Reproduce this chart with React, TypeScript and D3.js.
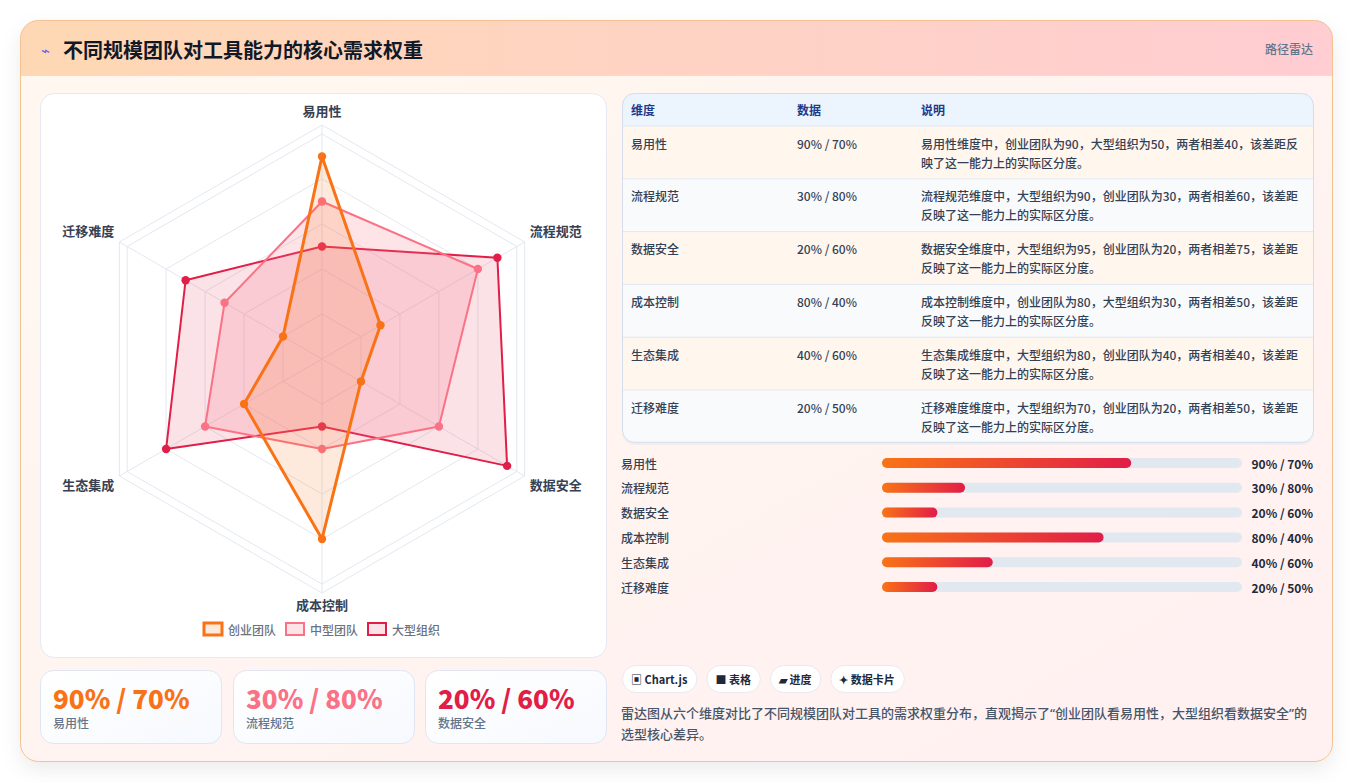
import { useMemo } from 'react';
import { curveLinearClosed, lineRadial, scaleLinear, scalePoint } from 'd3';

const dims = ['易用性', '流程规范', '数据安全', '成本控制', '生态集成', '迁移难度'];
const seriesNames = ['创业团队', '中型团队', '大型组织'];
const startup = [90, 30, 20, 80, 40, 20];
const midsize = [70, 80, 60, 40, 60, 50];
const enterprise = [50, 90, 95, 30, 80, 70];
const ringTicks = [20, 40, 60, 80, 100, 104];
const colors = ['#f97316', '#fb7185', '#e11d48'];
const fills = ['rgba(249,115,22,0.15)', 'rgba(251,113,133,0.2)', 'rgba(225,29,72,0.13)'];
const lineWidths = [3, 2, 2];
const cardDims = [0, 1, 2];
const tags = ['▣ Chart.js', '■ 表格', '▰ 进度', '✦ 数据卡片'];
const note =
  '雷达图从六个维度对比了不同规模团队对工具的需求权重分布，直观揭示了“创业团队看易用性，大型组织看数据安全”的选型核心差异。';

const FONT = "'Noto Sans CJK SC', 'Noto Sans', sans-serif";
const NOTE_FONT = "'Noto Sans', 'Noto Sans CJK SC', sans-serif";

let ctx: CanvasRenderingContext2D | null = null;
const measure = (text: string, font: string) => {
  if (!ctx) ctx = document.createElement('canvas').getContext('2d');
  ctx!.font = font;
  return ctx!.measureText(text).width;
};

const wrap = (text: string, font: string, maxW: number) => {
  const lines: string[] = [];
  let cur = '';
  for (const ch of Array.from(text)) {
    if (measure(cur + ch, font) > maxW && cur) {
      lines.push(cur);
      cur = ch;
    } else cur += ch;
  }
  if (cur) lines.push(cur);
  return lines;
};

const pct = (i: number) => `${startup[i]}% / ${midsize[i]}%`;

const describe = (i: number) => {
  const a = startup[i];
  const b = enterprise[i];
  const [hiN, hi, loN, lo] = a >= b ? ['创业团队', a, '大型组织', b] : ['大型组织', b, '创业团队', a];
  return `${dims[i]}维度中，${hiN}为${hi}，${loN}为${lo}，两者相差${Math.abs(a - b)}，该差距反映了这一能力上的实际区分度。`;
};

const Radar = () => {
  const cx = 322;
  const cy = 359;
  const r = scaleLinear().domain([0, 100]).range([0, 225]);
  const slice = (Math.PI * 2) / dims.length;
  const line = lineRadial<number>()
    .curve(curveLinearClosed)
    .radius((d) => r(d))
    .angle((_, i) => i * slice);
  const data = [startup, midsize, enterprise];
  const order = [2, 1, 0];
  const labelR = 240;

  return (
    <g>
      <g transform={`translate(${cx},${cy})`}>
        {ringTicks.map((t) => (
          <path key={t} d={line(dims.map(() => t)) || ''} fill="none" stroke="#e3e8ef" strokeWidth={1} />
        ))}
        {dims.map((d, i) => (
          <line
            key={d}
            x1={0}
            y1={0}
            x2={r(104) * Math.sin(i * slice)}
            y2={-r(104) * Math.cos(i * slice)}
            stroke="#e3e8ef"
          />
        ))}
        {order.map((k) => (
          <g key={k}>
            <path d={line(data[k]) || ''} fill={fills[k]} stroke={colors[k]} strokeWidth={lineWidths[k]} strokeLinejoin="round" />
            {data[k].map((v, i) => (
              <circle key={i} cx={r(v) * Math.sin(i * slice)} cy={-r(v) * Math.cos(i * slice)} r={4.2} fill={colors[k]} />
            ))}
          </g>
        ))}
        {dims.map((d, i) => {
          const s = Math.sin(i * slice);
          const c = Math.cos(i * slice);
          const anchor = s > 0.1 ? 'start' : s < -0.1 ? 'end' : 'middle';
          return (
            <text
              key={d}
              x={labelR * s}
              y={-labelR * c - Math.sign(c) * 7 - 2}
              textAnchor={anchor}
              dominantBaseline="central"
              fontSize={13}
              fontWeight={600}
              fill="#374151"
            >
              {d}
            </text>
          );
        })}
      </g>
      <Legend />
    </g>
  );
};

const Legend = () => {
  const font = `500 12px ${FONT}`;
  const boxW = 18;
  const gap = 6;
  const itemGap = 10;
  const widths = seriesNames.map((n) => boxW + gap + measure(n, font));
  const total = widths.reduce((a, b) => a + b, 0) + itemGap * (seriesNames.length - 1);
  let x = 322 - total / 2;
  return (
    <g>
      {seriesNames.map((n, i) => {
        const x0 = x;
        x += widths[i] + itemGap;
        return (
          <g key={n}>
            <rect x={x0} y={623} width={boxW} height={12} fill={fills[i]} stroke={colors[i]} strokeWidth={lineWidths[i]} />
            <text x={x0 + boxW + gap} y={629} dominantBaseline="central" fontSize={12} fontWeight={500} fill="#6b7280">
              {n}
            </text>
          </g>
        );
      })}
    </g>
  );
};

const Table = () => {
  const x0 = 622;
  const y0 = 93;
  const w = 692;
  const headH = 33;
  const rowH = 52.8;
  const descFont = `500 12px ${FONT}`;
  const cols = [631, 797, 921];
  return (
    <g>
      <defs>
        <clipPath id="tblClip">
          <rect x={x0} y={y0} width={w} height={headH + rowH * dims.length} rx={12} />
        </clipPath>
      </defs>
      <rect x={x0} y={y0 + 2} width={w} height={headH + rowH * dims.length} rx={12} fill="#e2e8f0" opacity={0.6} />
      <g clipPath="url(#tblClip)">
        <rect x={x0} y={y0} width={w} height={headH} fill="#ecf4fe" />
        {['维度', '数据', '说明'].map((h, i) => (
          <text key={h} x={cols[i]} y={y0 + headH / 2} dominantBaseline="central" fontSize={12} fontWeight={700} fill="#1e3a8a">
            {h}
          </text>
        ))}
        {dims.map((d, i) => {
          const ry = y0 + headH + i * rowH;
          const lines = wrap(describe(i), descFont, 382);
          return (
            <g key={d}>
              <rect x={x0} y={ry} width={w} height={rowH} fill={i % 2 === 0 ? '#fff6ee' : '#f8fafc'} />
              <line x1={x0} x2={x0 + w} y1={ry} y2={ry} stroke="#e2e8f0" />
              <text x={cols[0]} y={ry + 17} dominantBaseline="central" fontSize={12} fontWeight={500} fill="#334155">
                {d}
              </text>
              <text x={cols[1]} y={ry + 17} dominantBaseline="central" fontSize={12} fontWeight={500} fill="#334155">
                {pct(i)}
              </text>
              {lines.map((l, j) => (
                <text key={j} x={cols[2]} y={ry + 17 + j * 19} dominantBaseline="central" fontSize={12} fontWeight={500} fill="#334155">
                  {l}
                </text>
              ))}
            </g>
          );
        })}
      </g>
      <rect x={x0 + 0.5} y={y0 + 0.5} width={w - 1} height={headH + rowH * dims.length - 1} rx={12} fill="none" stroke="#d5dde8" />
    </g>
  );
};

const Bars = () => {
  const y = scalePoint<string>().domain(dims).range([463, 587]);
  const trackX = 882;
  const trackW = 360;
  const x = scaleLinear().domain([0, 130]).range([0, trackW]);
  return (
    <g>
      {dims.map((d, i) => (
        <g key={d}>
          <defs>
            <linearGradient id={`bar${i}`} x1="0" x2="1" y1="0" y2="0">
              <stop offset="0%" stopColor="#f97316" />
              <stop offset="100%" stopColor="#e11d48" />
            </linearGradient>
          </defs>
          <text x={621} y={y(d)} dominantBaseline="central" fontSize={12} fontWeight={500} fill="#334155">
            {d}
          </text>
          <rect x={trackX} y={y(d)! - 5} width={trackW} height={10} rx={5} fill="#e2e8f0" />
          <rect x={trackX} y={y(d)! - 5} width={x(startup[i])} height={10} rx={5} fill={`url(#bar${i})`} />
          <text x={1313} y={y(d)} textAnchor="end" dominantBaseline="central" fontSize={12} fontWeight={700} fill="#1e293b">
            {pct(i)}
          </text>
        </g>
      ))}
    </g>
  );
};

const Cards = () => {
  const xs = [40, 233, 425];
  return (
    <g>
      <defs>
        <linearGradient id="cardBg" x1="0" x2="1" y1="0" y2="1">
          <stop offset="0%" stopColor="#ffffff" />
          <stop offset="100%" stopColor="#f6f9fe" />
        </linearGradient>
      </defs>
      {cardDims.map((k, i) => (
        <g key={k}>
          <rect x={xs[i] + 0.5} y={670.5} width={181} height={73} rx={13} fill="url(#cardBg)" stroke="#dfe6f2" />
          <text x={xs[i] + 13} y={697} dominantBaseline="central" fontSize={26} fontWeight={800} fill={colors[i]}>
            {pct(k)}
          </text>
          <text x={xs[i] + 13} y={722} dominantBaseline="central" fontSize={12} fontWeight={500} fill="#64748b">
            {dims[k]}
          </text>
        </g>
      ))}
    </g>
  );
};

const Tags = () => {
  const font = `700 11px ${FONT}`;
  let x = 622;
  const lines = wrap(note, `500 13px ${NOTE_FONT}`, 698);
  return (
    <g>
      {tags.map((t) => {
        const w = measure(t, font) + 18;
        const x0 = x;
        x += w + 10;
        return (
          <g key={t}>
            <rect x={x0 + 0.5} y={665.5} width={w} height={27} rx={13.5} fill="#ffffff" stroke="#e8eaf0" />
            <text x={x0 + 9} y={679} dominantBaseline="central" fontSize={11} fontWeight={700} fill="#1e293b">
              {t}
            </text>
          </g>
        );
      })}
      {lines.map((l, i) => (
        <text
          key={i}
          x={621}
          y={713 + i * 21}
          dominantBaseline="central"
          fontSize={13}
          fontWeight={500}
          fill="#475569"
          fontFamily={NOTE_FONT}
        >
          {l}
        </text>
      ))}
    </g>
  );
};

export default function App() {
  const W = 1354;
  const H = 783;
  const card = useMemo(() => ({ x: 20.5, y: 20.5, w: 1312, h: 741 }), []);
  return (
    <svg width={W} height={H} style={{ position: 'absolute', left: 0, top: 0, fontFamily: FONT }}>
      <defs>
        <linearGradient id="bodyBg" x1="0" x2="1" y1="0" y2="1">
          <stop offset="0%" stopColor="#fff8f0" />
          <stop offset="100%" stopColor="#fff0f1" />
        </linearGradient>
        <linearGradient id="headBg" x1="0" x2="1" y1="0" y2="0">
          <stop offset="0%" stopColor="#fed8b4" />
          <stop offset="100%" stopColor="#ffcdd2" />
        </linearGradient>
        <clipPath id="cardClip">
          <rect x={card.x} y={card.y} width={card.w} height={card.h} rx={18} />
        </clipPath>
        <filter id="shadow" x="-5%" y="-5%" width="110%" height="115%">
          <feDropShadow dx="0" dy="8" stdDeviation="10" floodColor="#000" floodOpacity="0.08" />
        </filter>
      </defs>
      <rect width={W} height={H} fill="#ffffff" />
      <rect x={card.x} y={card.y} width={card.w} height={card.h} rx={18} fill="url(#bodyBg)" filter="url(#shadow)" />
      <g clipPath="url(#cardClip)">
        <rect x={card.x} y={card.y} width={card.w} height={55} fill="url(#headBg)" />
        <line x1={card.x} x2={card.x + card.w} y1={75.5} y2={75.5} stroke="#f6d9c6" />
      </g>
      <rect x={card.x} y={card.y} width={card.w} height={card.h} rx={18} fill="none" stroke="#f4c290" />
      <text x={41} y={49} dominantBaseline="central" fontSize={15} fill="#6366f1">
        ⌁
      </text>
      <text x={63} y={49} dominantBaseline="central" fontSize={20} fontWeight={700} fill="#111827">
        不同规模团队对工具能力的核心需求权重
      </text>
      <text x={1313} y={48} textAnchor="end" dominantBaseline="central" fontSize={12} fontWeight={500} fill="#64748b">
        路径雷达
      </text>

      <rect x={40.5} y={93.5} width={566} height={564} rx={14} fill="#ffffff" stroke="#e6e9ef" />
      <Radar />
      <Table />
      <Bars />
      <Cards />
      <Tags />
    </svg>
  );
}
